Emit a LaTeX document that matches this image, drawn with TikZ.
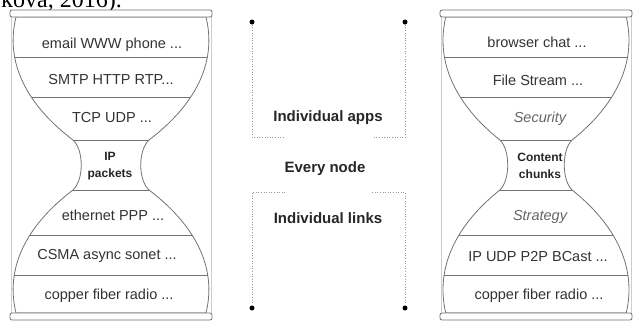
\documentclass[tikz,border=0pt]{standalone}
\usepackage{fontspec}
\setmainfont{Liberation Sans}
\newfontfamily\serifcap{Liberation Serif}
\def\hgshape{(-95,17) .. controls (-108,70) and (-75,112) .. (-38,140) .. controls (-27,150) and (-27,180) .. (-38,190) .. controls (-75,218) and (-108,260) .. (-95,313) -- (95,313) .. controls (108,260) and (75,218) .. (38,190) .. controls (27,180) and (27,150) .. (38,140) .. controls (75,112) and (108,70) .. (95,17) -- cycle}
\newcommand\hourglass[2]{%
\begin{scope}[shift={(#1,0)}, xscale=#2]
  \draw[framel] (-100,17) -- (-100,313) (100,17) -- (100,313);
  \path[hgline, fill=white] \hgshape;
  \begin{scope}
    \clip \hgshape;
    \foreach \yy in {57,97,140,190,235,275} \draw[hgline] (-120,\yy) -- (120,\yy);
  \end{scope}
  \draw[plate] (-101,10) rectangle (101,17);
  \draw[plate] (-101,313) rectangle (101,320);
\end{scope}}
\begin{document}
\begin{tikzpicture}[x=1pt,y=-1pt,
  hgline/.style={draw=black!55, line width=0.8pt},
  plate/.style={draw=black!55, fill=white, line width=0.8pt, rounded corners=2pt},
  framel/.style={draw=black!20, line width=0.6pt},
  lbl/.style={font=\fontsize{14.5}{16}\selectfont, text=black!80, inner sep=0pt},
  ital/.style={font=\fontsize{14.5}{16}\selectfont\itshape, text=black!60, inner sep=0pt},
  neck/.style={font=\bfseries\fontsize{12}{17}\selectfont, align=center, text=black!85, inner sep=0pt},
  mid/.style={font=\bfseries\fontsize{15}{17}\selectfont, text=black!85, inner sep=0pt},
  dotnode/.style={circle, fill=black, inner sep=0pt, minimum size=5pt},
  dotline/.style={draw=black!40, dotted, line width=0.6pt}]
\useasboundingbox (0,0) rectangle (633,322);
\begin{scope}
  \clip (0,0) rectangle (633,322);
  \node[font=\serifcap\fontsize{24}{24}\selectfont, anchor=base east, inner sep=0pt] (cap) at (122,7.5) {kova, 2016).};
\end{scope}
\hourglass{111}{1}
\hourglass{536}{0.95}
% left labels
\node[lbl] (l1) at (112,45) {email WWW phone ...};
\node[lbl] (l2) at (111,80) {SMTP HTTP RTP...};
\node[lbl] (l3) at (112,118) {TCP UDP ...};
\node[neck] (l4) at (110,166) {IP\\packets};
\node[lbl] (l5) at (113,215) {ethernet PPP ...};
\node[lbl] (l6) at (107,256) {CSMA async sonet ...};
\node[lbl] (l7) at (109,296) {copper fiber radio ...};
% right labels
\node[lbl] (r1) at (537,42) {browser chat ...};
\node[lbl] (r2) at (538,80) {File Stream ...};
\node[ital] (r3) at (540,119) {Security};
\node[neck] (r4) at (540,166) {Content\\chunks};
\node[ital] (r5) at (540,217) {Strategy};
\node[lbl] (r6) at (538,257) {IP UDP P2P BCast ...};
\node[lbl] (r7) at (539,296) {copper fiber radio ...};
% middle
\node[mid] (m1) at (328,118) {Individual apps};
\node[mid] (m2) at (325,169) {Every node};
\node[mid] (m3) at (328,218) {Individual links};
\node[dotnode] (d1) at (252,22) {};
\node[dotnode] (d2) at (405,22) {};
\node[dotnode] (d3) at (252,308) {};
\node[dotnode] (d4) at (405,308) {};
\coordinate (a1) at (252,137); \coordinate (a2) at (285,137);
\coordinate (a3) at (405,137); \coordinate (a4) at (372,137);
\coordinate (b1) at (252,192); \coordinate (b2) at (285,192);
\coordinate (b3) at (405,192); \coordinate (b4) at (372,192);
\draw[dotline] (d1) -- (a1) -- (a2);
\draw[dotline] (d2) -- (a3) -- (a4);
\draw[dotline] (d3) -- (b1) -- (b2);
\draw[dotline] (d4) -- (b3) -- (b4);
\end{tikzpicture}
\end{document}
